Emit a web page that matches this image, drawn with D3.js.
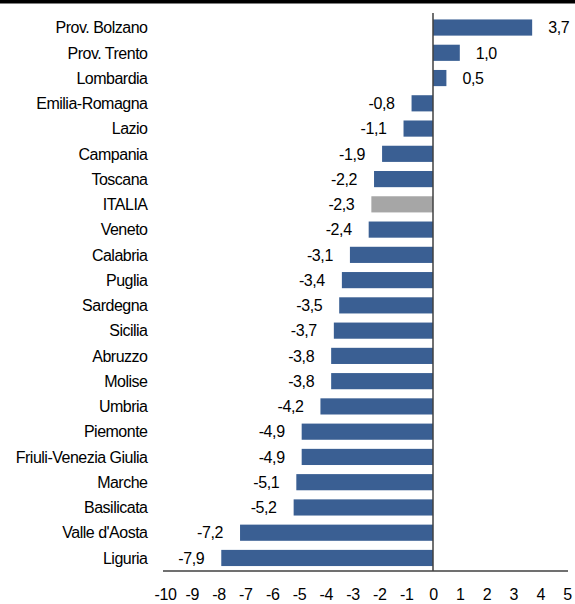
<!DOCTYPE html>
<html>
<head>
<meta charset="utf-8">
<script src="https://cdn.jsdelivr.net/npm/d3@7"></script>
<style>
  body { margin: 0; background: #fff; }
  text { font-family: "Liberation Sans", Arial, sans-serif; fill: #000; }
</style>
</head>
<body>
<div id="chart"></div>
<script>
const width = 575, height = 604;

const regions = ["Prov. Bolzano", "Prov. Trento", "Lombardia", "Emilia-Romagna", "Lazio", "Campania",
  "Toscana", "ITALIA", "Veneto", "Calabria", "Puglia", "Sardegna", "Sicilia", "Abruzzo", "Molise",
  "Umbria", "Piemonte", "Friuli-Venezia Giulia", "Marche", "Basilicata", "Valle d'Aosta", "Liguria"];
const values = [3.7, 1.0, 0.5, -0.8, -1.1, -1.9, -2.2, -2.3, -2.4, -3.1, -3.4, -3.5, -3.7, -3.8, -3.8,
  -4.2, -4.9, -4.9, -5.1, -5.2, -7.2, -7.9];
const ticks = [-10, -9, -8, -7, -6, -5, -4, -3, -2, -1, 0, 1, 2, 3, 4, 5];

const data = regions.map((r, i) => ({ name: r, value: values[i] }));

const svg = d3.select("#chart").append("svg")
  .attr("width", width)
  .attr("height", height);

// black rule on top
svg.append("rect").attr("x", 0).attr("y", 0).attr("width", width).attr("height", 3.5).attr("fill", "#000");

const x = d3.scaleLinear().domain([-10, 5]).range([165, 567]);
const y = d3.scaleBand().domain(regions).range([14.9, 570.6]).paddingInner(0.36).paddingOuter(0.18);

// bars
svg.selectAll("rect.bar")
  .data(data)
  .enter().append("rect")
  .attr("class", "bar")
  .attr("x", d => x(Math.min(0, d.value)))
  .attr("y", d => y(d.name))
  .attr("width", d => Math.abs(x(d.value) - x(0)))
  .attr("height", y.bandwidth())
  .attr("fill", d => d.name === "ITALIA" ? "#a6a6a6" : "#3a5f93");

// zero line
svg.append("line")
  .attr("x1", x(0)).attr("x2", x(0))
  .attr("y1", 13).attr("y2", 571)
  .attr("stroke", "#404040").attr("stroke-width", 1.5);

// bottom axis
const xAxis = svg.append("g")
  .attr("transform", `translate(0,571)`)
  .call(d3.axisBottom(x).tickValues(ticks).tickSize(0).tickPadding(18).tickFormat(d => String(d)));
xAxis.select(".domain").attr("stroke", "#404040").attr("stroke-width", 1.5)
  .attr("d", `M${x(-10) - 2},0H${x(5) + 1}`);
xAxis.selectAll("text")
  .style("font-size", "16px")
  .style("letter-spacing", "-0.3px")
  .style("font-family", "'Liberation Sans', Arial, sans-serif")
  .attr("fill", "#000");

// category labels
svg.selectAll("text.cat")
  .data(data)
  .enter().append("text")
  .attr("class", "cat")
  .attr("x", 147.5)
  .attr("y", d => y(d.name) + y.bandwidth() / 2)
  .attr("dy", "0.36em")
  .attr("text-anchor", "end")
  .style("font-size", "16px")
  .style("letter-spacing", "-0.5px")
  .text(d => d.name);

// value labels
const fmt = v => v.toFixed(1).replace(".", ",");
svg.selectAll("text.val")
  .data(data)
  .enter().append("text")
  .attr("class", "val")
  .attr("x", d => d.value >= 0 ? x(d.value) + 16 : x(d.value) - 17)
  .attr("y", d => y(d.name) + y.bandwidth() / 2)
  .attr("dy", "0.36em")
  .attr("text-anchor", d => d.value >= 0 ? "start" : "end")
  .style("font-size", "16px")
  .style("letter-spacing", "-0.4px")
  .text(d => fmt(d.value));
</script>
</body>
</html>
